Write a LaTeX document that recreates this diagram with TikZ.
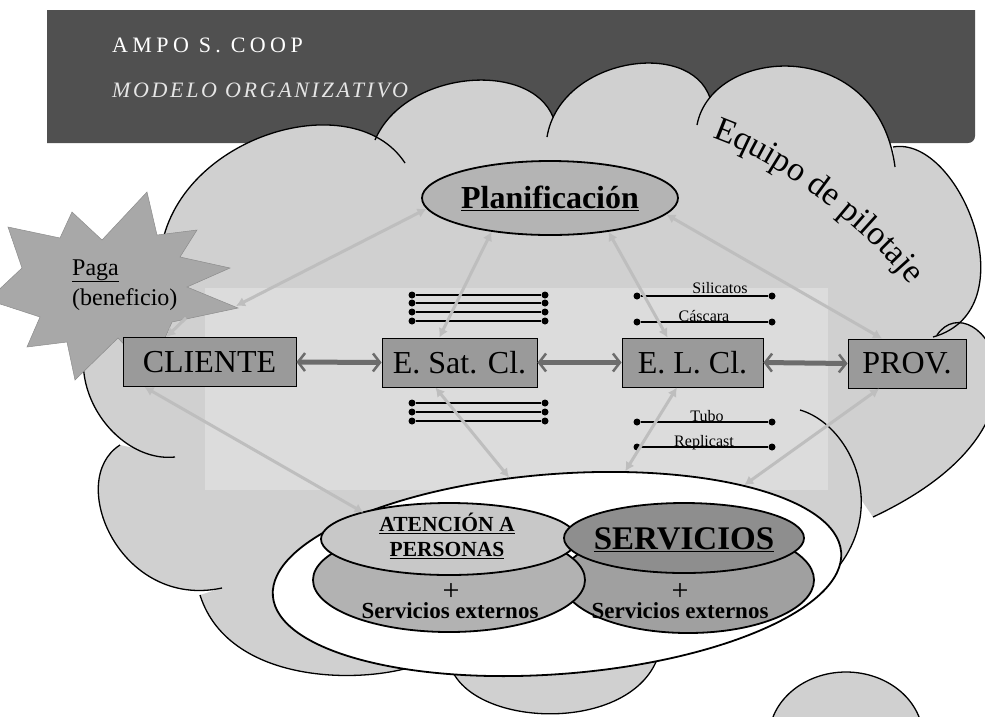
\documentclass[tikz,border=0pt]{standalone}
\usepackage{fontspec}
\setmainfont{Liberation Serif}
\usetikzlibrary{shapes.geometric,arrows.meta,decorations.text}
\newcommand\fsz[1]{\fontsize{#1}{#1}\selectfont}

\definecolor{headgray}{HTML}{505050}
\definecolor{cloudgray}{HTML}{D0D0D0}
\definecolor{cloudlight}{HTML}{DCDCDC}
\definecolor{stargray}{HTML}{A8A8A8}
\definecolor{boxgray}{HTML}{9A9A9A}
\definecolor{plangray}{HTML}{B4B4B4}
\definecolor{linkgray}{HTML}{BEBEBE}
\definecolor{bargray}{HTML}{6C6C6C}
\definecolor{apbody}{HTML}{B2B2B2}
\definecolor{aptop}{HTML}{C8C8C8}
\definecolor{svbody}{HTML}{A0A0A0}
\definecolor{svtop}{HTML}{8E8E8E}

\begin{document}
\begin{tikzpicture}[x=1pt,y=-1pt,
  cloudedge/.style={draw=black, line width=1.3pt},
  entity/.style={draw=black, line width=0.9pt, fill=boxgray, minimum height=49pt,
    inner sep=0pt, font=\fsz{32}},
  rail/.style={draw=black, line width=1.4pt},
  dot/.style={circle, fill=black, inner sep=0pt, minimum size=7pt},
  lbl/.style={font=\fsz{16}, inner sep=0pt},
  link/.style={draw=linkgray, line width=3pt,
    arrows={Latex[length=9pt,width=10pt]-Latex[length=9pt,width=10pt]}},
  bar/.style={draw=bargray, line width=5pt,
    arrows={Straight Barb[length=7pt,width=18pt,line width=2.5pt]-Straight Barb[length=7pt,width=18pt,line width=2.5pt]}},
  cylpart/.style={ellipse, draw=black, line width=1.8pt, inner sep=0pt}]

\useasboundingbox (0,0) rectangle (985,716);
\clip (0,0) rectangle (985,716);
\fill[white] (0,0) rectangle (985,716);

% ---- title band ----
\fill[headgray] (47,10) -- (975,10) -- (975,136) arc[start angle=0, end angle=90, radius=7]
  -- (47,143) -- cycle;
\node[font=\fsz{22}\addfontfeature{LetterSpace=20}, text=white, anchor=base west, inner sep=0pt]
  (firm) at (112,52) {AMPO S. COOP};
\node[font=\itshape\fsz{22}\addfontfeature{LetterSpace=12}, text=white!90!black, anchor=base west, inner sep=0pt]
  (model) at (112,97) {MODELO ORGANIZATIVO};

% ---- cloud: bumps as Bezier arcs (start / control / control / end) ----
\def\bumps{160/258/170/138/352/82/405/163,
  375/140/405/70/530/60/553/117,
  547/137/560/58/690/38/710/98,
  697/125/712/45/878/35/895/167,
  893/147/960/135/1030/310/933/337,
  937/335/975/280/1080/420/873/517,
  800/410/870/430/925/590/700/640,
  660/650/640/735/470/730/450/665,
  430/660/380/685/230/690/200/595,
  222/588/120/610/65/480/120/445,
  175/457/100/465/20/330/160/258}
\fill[cloudgray] (160,258) -- (405,163) -- (375,140) -- (553,117) -- (547,137) -- (710,98)
  -- (697,125) -- (895,167) -- (893,147) -- (933,337) -- (937,335) -- (873,517) -- (800,410)
  -- (700,640) -- (660,650) -- (450,665) -- (430,660) -- (200,595) -- (222,588) -- (120,445)
  -- (175,457) -- cycle
  \foreach \sx/\sy/\ax/\ay/\bx/\by/\ex/\ey in \bumps
  { (\sx,\sy) .. controls (\ax,\ay) and (\bx,\by) .. (\ex,\ey) -- cycle };
\fill[cloudlight] (205,288) rectangle (828,490);
\foreach \sx/\sy/\ax/\ay/\bx/\by/\ex/\ey in \bumps
  \draw[cloudedge] (\sx,\sy) .. controls (\ax,\ay) and (\bx,\by) .. (\ex,\ey);

% small puff, bottom right
\draw[cloudedge, fill=cloudgray] (846,738) ellipse [x radius=77, y radius=66];

% ---- starburst ----
\filldraw[fill=stargray, draw=black!45, line width=0.5pt]
  (147,192) -- (157,235) -- (197,230) -- (180,257) -- (230,268) -- (187,287) -- (238,308)
  -- (172,322) -- (150,372) -- (118,338) -- (75,380) -- (67,342) -- (27,347) -- (40,317)
  -- (-12,300) -- (22,268) -- (8,227) -- (60,238) -- (72,212) -- (102,240) -- cycle;

% ---- rails ----
\foreach \y [count=\i] in {295,303,312,321} {
  \node[dot] (ua\i) at (412,\y) {};
  \node[dot] (ub\i) at (545,\y) {};
  \draw[rail] (ua\i) -- (ub\i);
}
\foreach \y [count=\i] in {403,412,421} {
  \node[dot] (la\i) at (412,\y) {};
  \node[dot] (lb\i) at (545,\y) {};
  \draw[rail] (la\i) -- (lb\i);
}
\foreach \y/\nm in {296/sil,322/cas,422/tub,447/rep} {
  \node[dot] (\nm a) at (637,\y) {};
  \node[dot] (\nm b) at (772,\y) {};
  \draw[rail] (\nm a) -- (\nm b);
}
\node[lbl, anchor=base] (silt) at (720,293) {Silicatos};
\node[lbl, anchor=base] (cast) at (704,321) {Cáscara};
\node[lbl, anchor=base] (tubt) at (707,421) {Tubo};
\node[lbl, anchor=base] (rept) at (704,446) {Replicast};

% ---- planning ----
\node[ellipse, draw=black, line width=1.8pt, fill=plangray, minimum width=256pt, minimum height=74pt,
  inner sep=0pt, font=\bfseries\fsz{32}] (plan) at (550,198) {\underline{Planificación}};

% ---- chain of entities ----
\node[entity, minimum width=173pt] (cliente) at (209.5,362) {CLIENTE};
\node[entity, minimum width=155pt] (esat) at (459.5,362.5) {E. Sat. Cl.};
\node[entity, minimum width=141pt] (el) at (692.5,362.5) {E. L. Cl.};
\node[entity, minimum width=118pt] (prov) at (907,363.5) {PROV.};

% ---- services ring ----
\node[ellipse, draw=black, line width=1.8pt, fill=white, minimum width=570pt, minimum height=200pt,
  inner sep=0pt, rotate=4.4] (ring) at (557,574) {};
\node[cylpart, fill=svbody, minimum width=252pt, minimum height=106pt] (svb) at (688,580) {};
\node[cylpart, fill=apbody, minimum width=272pt, minimum height=104pt] (apb) at (449,580) {};
\node[cylpart, fill=aptop, minimum width=256pt, minimum height=72pt] (apt) at (449,539) {};
\node[cylpart, fill=svtop, minimum width=240pt, minimum height=70pt] (svt) at (684,538) {};
\node[font=\bfseries\fontsize{21.5}{25}\selectfont, align=center, inner sep=0pt] (aptext) at (447,536)
  {\underline{ATENCIÓN A}\\\underline{PERSONAS}};
\node[font=\bfseries\fsz{33}, inner sep=0pt] (svtext) at (684,540) {\underline{SERVICIOS}};
\node[font=\fsz{30}, inner sep=0pt] (applus) at (451,592) {+};
\node[font=\fsz{30}, inner sep=0pt] (svplus) at (680,592) {+};
\node[font=\bfseries\fsz{23}, inner sep=0pt] (apext) at (450,611) {Servicios externos};
\node[font=\bfseries\fsz{23}, inner sep=0pt] (svext) at (680,611) {Servicios externos};

% ---- flows between entities ----
\draw[bar] (cliente.east) -- (esat.west);
\draw[bar] (esat.east) -- (el.west);
\draw[bar] (el.east) -- (prov.west);

% ---- coordination links ----
\coordinate (paga) at (236,306);
\coordinate (pagab) at (186,318);
\draw[link] (paga) -- (plan.185);
\draw[link, arrows={-Latex[length=9pt,width=10pt]}] (pagab) -- (cliente.150);
\draw[link] (plan.210) -- (esat.129);
\draw[link] (plan.330) -- (el.135);
\draw[link] (plan.352) -- (prov.135);
\draw[link] (cliente.201) -- (ring.158);
\draw[link] (esat.226) -- (ring.112);
\draw[link] (el.238) -- (ring.52);
\draw[link] (prov.222) -- (ring.21);

% ---- labels ----
\path[decorate, decoration={text along path, text align=left,
  text={|\fsz{34}|Equipo de pilotaje}}]
  (712,138) .. controls (790,165) and (890,250) .. (925,305);
\node[font=\fsz{24}, anchor=base west, inner sep=0pt] (pagaword) at (72,275) {\underline{Paga}};
\node[font=\fsz{24}, anchor=base west, inner sep=0pt] (benef) at (72,305) {(beneficio)};
\end{tikzpicture}
\end{document}
